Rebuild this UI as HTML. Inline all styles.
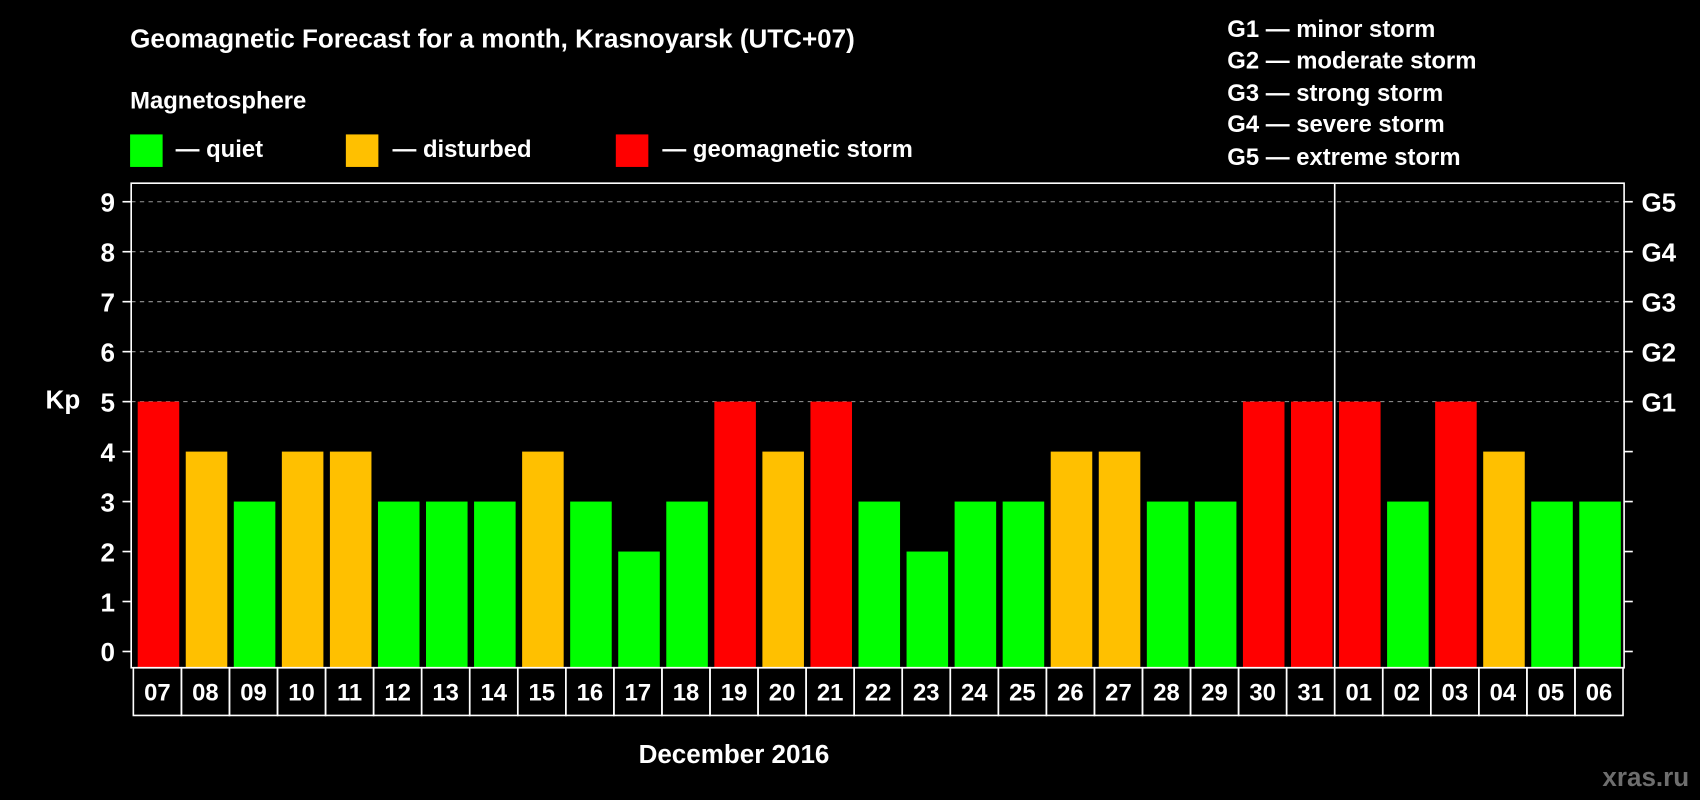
<!DOCTYPE html>
<html><head><meta charset="utf-8"><style>
html,body{margin:0;padding:0;background:#000;}
svg{display:block;font-family:"Liberation Sans",sans-serif;font-weight:bold;}
</style></head><body>
<svg id="chart" width="1700" height="800" viewBox="0 0 1568 738" preserveAspectRatio="none" xmlns="http://www.w3.org/2000/svg">
<rect width="1568" height="738" fill="#000"/>
<text x="120" y="44" fill="#fff" font-size="24">Geomagnetic Forecast for a month, Krasnoyarsk (UTC+07)</text>
<text x="120" y="100" fill="#fff" font-size="22">Magnetosphere</text>
<g><rect x="120" y="124" width="30" height="30" fill="#00ff00"/><text x="162" y="145" fill="#fff" font-size="22">— quiet</text></g>
<g><rect x="319" y="124" width="30" height="30" fill="#ffc000"/><text x="362" y="145" fill="#fff" font-size="22">— disturbed</text></g>
<g><rect x="568" y="124" width="30" height="30" fill="#ff0000"/><text x="611" y="145" fill="#fff" font-size="22">— geomagnetic storm</text></g>
<g fill="#fff" font-size="22">
<text x="1132" y="34">G1 — minor storm</text>
<text x="1132" y="63">G2 — moderate storm</text>
<text x="1132" y="93">G3 — strong storm</text>
<text x="1132" y="122">G4 — severe storm</text>
<text x="1132" y="152">G5 — extreme storm</text>
</g>
<g id="grid"></g>
<g id="bars"></g>
<g id="axes"></g>
<text x="58" y="377" fill="#fff" font-size="24" text-anchor="middle">Kp</text>
<text x="677" y="704" fill="#fff" font-size="24" text-anchor="middle">December 2016</text>
<text x="1558" y="725" fill="#6e6e6e" font-size="24" text-anchor="end">xras.ru</text>
</svg>
<script>
const days = ["07","08","09","10","11","12","13","14","15","16","17","18","19","20","21","22","23","24","25","26","27","28","29","30","31","01","02","03","04","05","06"];
const kpValues = [5,4,3,4,4,3,3,3,4,3,2,3,5,4,5,3,2,3,3,4,4,3,3,5,5,5,3,5,4,3,3];
const yTicks = [0,1,2,3,4,5,6,7,8,9];
const gLabels = ["G1","G2","G3","G4","G5"];
const gLevels = [5,6,7,8,9];
const monthBreakIndex = 25;

const NS="http://www.w3.org/2000/svg";
const L=121,R=1498,T=169,B=616,slotL=123,slotR=1497;
const slot=(slotR-slotL)/days.length;
const y=v=>601-46.1*v;
const x=i=>slotL+i*slot;
function mk(tag,attrs,parent){const e=document.createElementNS(NS,tag);for(const k in attrs)e.setAttribute(k,attrs[k]);parent.appendChild(e);return e;}
const grid=document.getElementById('grid'),bars=document.getElementById('bars'),axes=document.getElementById('axes');
gLevels.forEach(v=>{
  const l=mk('line',{x1:L,x2:R,y1:y(v),y2:y(v),stroke:'#999','stroke-dasharray':'4,4','stroke-width':1},grid);
  
  
});
kpValues.forEach((v,i)=>{
  const c=v>=5?'#ff0000':(v>=4?'#ffc000':'#00ff00');
  const r=mk('rect',{x:x(i)+4,y:y(v),width:slot-6,height:B-y(v),fill:c},bars);
  
  
});
mk('rect',{x:L,y:T,width:R-L,height:B-T,fill:'none',stroke:'#fff','stroke-width':1.5},axes);
const vl=mk('line',{x1:x(monthBreakIndex),x2:x(monthBreakIndex),y1:T,y2:B,stroke:'#fff','stroke-width':1.5},axes);


yTicks.forEach(v=>{
  mk('line',{x1:L-8,x2:L,y1:y(v),y2:y(v),stroke:'#fff','stroke-width':1.5},axes);
  mk('line',{x1:R,x2:R+8,y1:y(v),y2:y(v),stroke:'#fff','stroke-width':1.5},axes);
  const t=mk('text',{x:106,y:y(v)+9,fill:'#fff','font-size':24,'text-anchor':'end'},axes);
  t.textContent=v;
  
  
});
gLabels.forEach((g,i)=>{
  const t=mk('text',{x:1514,y:y(gLevels[i])+9,fill:'#fff','font-size':24},axes);
  t.textContent=g;
  
  
});
days.forEach((d,i)=>{
  mk('rect',{x:x(i),y:B,width:slot,height:44,fill:'none',stroke:'#fff','stroke-width':1.5},axes);
  const t=mk('text',{x:x(i)+slot/2,y:B+30,fill:'#fff','font-size':22,'text-anchor':'middle'},axes);
  t.textContent=d;
  
  
});
</script>
</body></html>
